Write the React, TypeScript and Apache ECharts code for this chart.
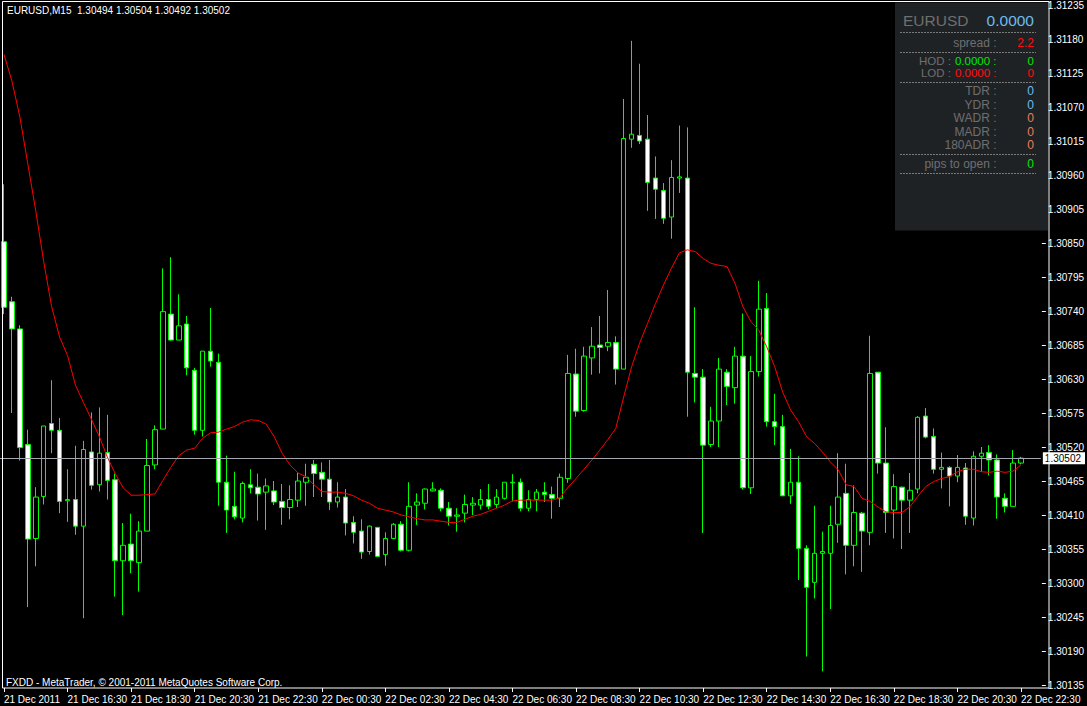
import React, { useEffect, useRef } from "react";
import * as echarts from "echarts";

const symbolName = "EURUSD,M15";

// x-axis tick labels, one every 8 bars (2 hours of M15 bars)
const tickLabels = [
  "21 Dec 2011", "21 Dec 16:30", "21 Dec 18:30", "21 Dec 20:30", "21 Dec 22:30",
  "22 Dec 00:30", "22 Dec 02:30", "22 Dec 04:30", "22 Dec 06:30", "22 Dec 08:30",
  "22 Dec 10:30", "22 Dec 12:30", "22 Dec 14:30", "22 Dec 16:30", "22 Dec 18:30",
  "22 Dec 20:30", "22 Dec 22:30",
];

const opens = [
  1.30852, 1.30755, 1.30711, 1.30524, 1.30372, 1.30440, 1.30558, 1.30547, 1.30433, 1.30435,
  1.30392, 1.30512, 1.30459, 1.30511, 1.30467, 1.30336, 1.30363, 1.30333, 1.30384, 1.30491,
  1.30549, 1.30735, 1.30693, 1.30719, 1.30644, 1.30547, 1.30675, 1.30657, 1.30463, 1.30424,
  1.30405, 1.30459, 1.30455, 1.30447, 1.30449, 1.30432, 1.30422, 1.30434, 1.30463, 1.30492,
  1.30479, 1.30468, 1.30431, 1.30439, 1.30398, 1.30384, 1.30351, 1.30390, 1.30346, 1.30372,
  1.30395, 1.30353, 1.30426, 1.30429, 1.30449, 1.30450, 1.30421, 1.30408, 1.30413, 1.30426,
  1.30426, 1.30435, 1.30427, 1.30437, 1.30462, 1.30463, 1.30421, 1.30435, 1.30447, 1.30443,
  1.30437, 1.30469, 1.30638, 1.30579, 1.30664, 1.30685, 1.30683, 1.30689, 1.30646, 1.31018,
  1.31024, 1.31018, 1.30955, 1.30935, 1.30892, 1.30955, 1.30955, 1.30639, 1.30633, 1.30524,
  1.30562, 1.30641, 1.30616, 1.30667, 1.30454, 1.30642, 1.30744, 1.30561, 1.30553, 1.30441,
  1.30463, 1.30356, 1.30301, 1.30348, 1.30348, 1.30395, 1.30445, 1.30361, 1.30413, 1.30382,
  1.30641, 1.30494, 1.30418, 1.30455, 1.30434, 1.30452, 1.30570, 1.30537, 1.30484, 1.30487,
  1.30473, 1.30486, 1.30405, 1.30505, 1.30511, 1.30499, 1.30437, 1.30424, 1.30494,
];

const highs = [
  1.30945, 1.30763, 1.30717, 1.30548, 1.30455, 1.30554, 1.30628, 1.30567, 1.30484, 1.30522,
  1.30530, 1.30576, 1.30584, 1.30572, 1.30477, 1.30397, 1.30412, 1.30400, 1.30533, 1.30555,
  1.30809, 1.30827, 1.30767, 1.30732, 1.30648, 1.30675, 1.30745, 1.30671, 1.30506, 1.30480,
  1.30464, 1.30484, 1.30477, 1.30469, 1.30465, 1.30460, 1.30458, 1.30478, 1.30493, 1.30499,
  1.30495, 1.30499, 1.30463, 1.30452, 1.30408, 1.30403, 1.30393, 1.30390, 1.30382, 1.30397,
  1.30400, 1.30463, 1.30445, 1.30453, 1.30463, 1.30453, 1.30431, 1.30421, 1.30443, 1.30439,
  1.30452, 1.30460, 1.30452, 1.30463, 1.30476, 1.30469, 1.30450, 1.30452, 1.30463, 1.30456,
  1.30477, 1.30669, 1.30679, 1.30682, 1.30714, 1.30732, 1.30774, 1.30699, 1.31083, 1.31177,
  1.31140, 1.31057, 1.30990, 1.30947, 1.30984, 1.31040, 1.31037, 1.30746, 1.30646, 1.30585,
  1.30664, 1.30646, 1.30682, 1.30736, 1.30667, 1.30789, 1.30769, 1.30606, 1.30572, 1.30517,
  1.30505, 1.30361, 1.30425, 1.30383, 1.30425, 1.30510, 1.30493, 1.30458, 1.30415, 1.30700,
  1.30641, 1.30552, 1.30476, 1.30456, 1.30478, 1.30570, 1.30583, 1.30550, 1.30511, 1.30489,
  1.30507, 1.30494, 1.30513, 1.30520, 1.30523, 1.30508, 1.30445, 1.30515, 1.30504,
];

const lows = [
  1.30735, 1.30575, 1.30498, 1.30261, 1.30327, 1.30427, 1.30510, 1.30413, 1.30399, 1.30378,
  1.30243, 1.30451, 1.30448, 1.30435, 1.30278, 1.30248, 1.30316, 1.30286, 1.30384, 1.30484,
  1.30549, 1.30692, 1.30693, 1.30636, 1.30540, 1.30537, 1.30650, 1.30425, 1.30381, 1.30403,
  1.30398, 1.30445, 1.30401, 1.30386, 1.30426, 1.30394, 1.30403, 1.30423, 1.30425, 1.30439,
  1.30439, 1.30418, 1.30422, 1.30377, 1.30364, 1.30339, 1.30346, 1.30343, 1.30328, 1.30371,
  1.30351, 1.30351, 1.30394, 1.30419, 1.30448, 1.30416, 1.30393, 1.30383, 1.30398, 1.30410,
  1.30419, 1.30419, 1.30421, 1.30435, 1.30432, 1.30416, 1.30416, 1.30416, 1.30431, 1.30404,
  1.30423, 1.30462, 1.30569, 1.30577, 1.30637, 1.30639, 1.30675, 1.30621, 1.30646, 1.31004,
  1.31010, 1.30902, 1.30889, 1.30881, 1.30857, 1.30931, 1.30569, 1.30592, 1.30381, 1.30520,
  1.30520, 1.30588, 1.30590, 1.30451, 1.30444, 1.30634, 1.30553, 1.30523, 1.30441, 1.30428,
  1.30305, 1.30181, 1.30275, 1.30157, 1.30258, 1.30365, 1.30314, 1.30327, 1.30318, 1.30361,
  1.30477, 1.30381, 1.30372, 1.30355, 1.30381, 1.30445, 1.30534, 1.30477, 1.30453, 1.30424,
  1.30463, 1.30394, 1.30393, 1.30480, 1.30474, 1.30404, 1.30414, 1.30424, 1.30492,
];

const closes = [
  1.30746, 1.30711, 1.30519, 1.30371, 1.30439, 1.30554, 1.30547, 1.30432, 1.30435, 1.30392,
  1.30516, 1.30458, 1.30510, 1.30466, 1.30336, 1.30361, 1.30336, 1.30384, 1.30490, 1.30548,
  1.30739, 1.30693, 1.30716, 1.30648, 1.30547, 1.30675, 1.30659, 1.30463, 1.30418, 1.30407,
  1.30461, 1.30454, 1.30444, 1.30457, 1.30431, 1.30422, 1.30435, 1.30465, 1.30471, 1.30477,
  1.30468, 1.30431, 1.30439, 1.30397, 1.30382, 1.30350, 1.30392, 1.30343, 1.30372, 1.30395,
  1.30353, 1.30424, 1.30431, 1.30452, 1.30452, 1.30421, 1.30408, 1.30410, 1.30427, 1.30429,
  1.30435, 1.30424, 1.30439, 1.30463, 1.30463, 1.30421, 1.30435, 1.30447, 1.30443, 1.30437,
  1.30471, 1.30639, 1.30578, 1.30667, 1.30683, 1.30681, 1.30689, 1.30646, 1.31019, 1.31026,
  1.31015, 1.30948, 1.30937, 1.30890, 1.30956, 1.30957, 1.30641, 1.30633, 1.30523, 1.30562,
  1.30646, 1.30618, 1.30667, 1.30454, 1.30642, 1.30743, 1.30561, 1.30553, 1.30441, 1.30463,
  1.30356, 1.30293, 1.30348, 1.30351, 1.30393, 1.30439, 1.30361, 1.30414, 1.30384, 1.30639,
  1.30494, 1.30414, 1.30456, 1.30434, 1.30450, 1.30568, 1.30536, 1.30484, 1.30487, 1.30473,
  1.30487, 1.30408, 1.30505, 1.30510, 1.30499, 1.30439, 1.30424, 1.30494, 1.30502,
];

// red moving-average line
const maValues = [
  1.31155, 1.31112, 1.31054, 1.30978, 1.30902, 1.30820, 1.30747, 1.30698, 1.30668, 1.30620,
  1.30592, 1.30565, 1.30537, 1.30504, 1.30477, 1.30454, 1.30442, 1.30442, 1.30443, 1.30444,
  1.30466, 1.30487, 1.30506, 1.30515, 1.30518, 1.30534, 1.30543, 1.30544, 1.30549, 1.30553,
  1.30560, 1.30564, 1.30563, 1.30557, 1.30537, 1.30510, 1.30491, 1.30478, 1.30472, 1.30459,
  1.30448, 1.30447, 1.30447, 1.30445, 1.30441, 1.30434, 1.30429, 1.30421, 1.30418, 1.30415,
  1.30410, 1.30407, 1.30404, 1.30402, 1.30402, 1.30400, 1.30398, 1.30398, 1.30403, 1.30408,
  1.30411, 1.30416, 1.30421, 1.30426, 1.30433, 1.30434, 1.30434, 1.30434, 1.30434, 1.30434,
  1.30438, 1.30455, 1.30469, 1.30484, 1.30499, 1.30515, 1.30532, 1.30550, 1.30601, 1.30650,
  1.30688, 1.30720, 1.30752, 1.30782, 1.30809, 1.30834, 1.30839, 1.30836, 1.30825, 1.30817,
  1.30814, 1.30812, 1.30785, 1.30747, 1.30723, 1.30709, 1.30682, 1.30650, 1.30609, 1.30580,
  1.30561, 1.30537, 1.30526, 1.30512, 1.30496, 1.30483, 1.30459, 1.30456, 1.30437, 1.30432,
  1.30423, 1.30415, 1.30414, 1.30414, 1.30423, 1.30440, 1.30456, 1.30464, 1.30469, 1.30472,
  1.30480, 1.30484, 1.30484, 1.30480, 1.30479, 1.30481, 1.30479, 1.30481, 1.30491,
];

const yMin = 1.30135;
const yMax = 1.31235;
const yStep = 0.00055;

// panel rows: label, value, value colour
const panelRows = [
  { label: "TDR :", value: "0", color: "#6cbcf0" },
  { label: "YDR :", value: "0", color: "#6cbcf0" },
  { label: "WADR :", value: "0", color: "#f07b5c" },
  { label: "MADR :", value: "0", color: "#f07b5c" },
  { label: "180ADR :", value: "0", color: "#f07b5c" },
];

const FONT = "'Liberation Sans', Arial, sans-serif";
const GRAY = "#6f6f6f";
const GREEN = "#00e600";
const RED = "#ff1010";
const BLUE = "#6cbcf0";

// one slot per 15-minute bar, plus two empty slots on the right
const categories: string[] = [];
for (let i = 0; i < opens.length + 2; i++) {
  const t = 14 * 60 + 30 + 15 * i;
  const d = 21 + Math.floor(t / 1440);
  const m = t % 1440;
  categories.push(
    `${d} Dec ${String(Math.floor(m / 60)).padStart(2, "0")}:${String(m % 60).padStart(2, "0")}`
  );
}

function txt(x: number, y: number, text: string, fill: string, size: number, align = "left") {
  return {
    type: "text",
    x,
    y,
    silent: true,
    z: 20,
    style: {
      text,
      fill,
      fontSize: size,
      fontFamily: FONT,
      lineHeight: size,
      align,
      textAlign: align,
      verticalAlign: "middle",
      textVerticalAlign: "middle",
    },
  };
}

function dash(y: number) {
  return {
    type: "line",
    silent: true,
    z: 20,
    shape: { x1: 900, y1: y, x2: 1036, y2: y },
    style: { stroke: "#7a7a7a", lineWidth: 1, lineDash: [2, 1] },
  };
}

export default function App() {
  const ref = useRef<HTMLDivElement>(null);

  useEffect(() => {
    if (!ref.current) return;
    const chart = echarts.init(ref.current, undefined, { renderer: "svg" });
    const last = opens.length - 1;
    const candles = opens.map((o, i) => [o, closes[i], lows[i], highs[i]]);
    const title = `${symbolName}  ${opens[last].toFixed(5)} ${highs[last].toFixed(5)} ${lows[last].toFixed(5)} ${closes[last].toFixed(5)}`;

    const graphic: any[] = [
      // chart frame
      {
        type: "rect",
        silent: true,
        z: 15,
        shape: { x: 2.5, y: 1.5, width: 1046.5, height: 686.5 },
        style: { fill: "none", stroke: "#ffffff", lineWidth: 1 },
      },
      // info panel
      {
        type: "rect",
        silent: true,
        z: 16,
        shape: { x: 895, y: 2.5, width: 153, height: 228 },
        style: { fill: "#1f2225" },
      },
      txt(7, 10, title, "#ffffff", 10),
      txt(6, 682, "FXDD - MetaTrader, © 2001-2011 MetaQuotes Software Corp.", "#ffffff", 10),
      txt(903, 20, "EURUSD", GRAY, 15.5),
      txt(1034, 20, "0.0000", BLUE, 15.5, "right"),
      dash(32.5),
      txt(996.5, 42.5, "spread :", GRAY, 12, "right"),
      txt(1034, 42.5, "2.2", RED, 12, "right"),
      dash(52.5),
      txt(951, 60.5, "HOD :", GRAY, 11.5, "right"),
      txt(996.5, 60.5, "0.0000 :", GREEN, 11.5, "right"),
      txt(1034, 60.5, "0", GREEN, 11.5, "right"),
      txt(951, 72.5, "LOD :", GRAY, 11.5, "right"),
      txt(996.5, 72.5, "0.0000 :", RED, 11.5, "right"),
      txt(1034, 72.5, "0", RED, 11.5, "right"),
      dash(82.5),
      dash(154.5),
      txt(996.5, 164, "pips to open :", GRAY, 12, "right"),
      txt(1034, 164, "0", GREEN, 12, "right"),
      dash(173.5),
    ];
    const rowY = [90.5, 104.5, 118, 131.5, 144.5];
    panelRows.forEach((r, i) => {
      graphic.push(txt(996.5, rowY[i], r.label, GRAY, 12, "right"));
      graphic.push(txt(1034, rowY[i], r.value, r.color, 12, "right"));
    });

    chart.setOption({
      animation: false,
      backgroundColor: "#000000",
      textStyle: { fontFamily: FONT },
      grid: { left: 0, top: 5, width: 1048, height: 680, show: false },
      xAxis: {
        type: "category",
        data: categories,
        boundaryGap: true,
        offset: 3,
        axisLine: { show: false },
        axisTick: {
          show: true,
          alignWithLabel: true,
          interval: 7,
          length: 4,
          lineStyle: { color: "#ffffff" },
        },
        axisLabel: {
          interval: 7,
          color: "#ffffff",
          fontSize: 10,
          fontFamily: FONT,
          align: "left",
          margin: 6,
          formatter: (_v: string, i: number) => tickLabels[i / 8] ?? "",
        },
        splitLine: { show: false },
      },
      yAxis: {
        type: "value",
        position: "right",
        min: yMin,
        max: yMax,
        interval: yStep,
        offset: 1,
        axisLine: { show: false },
        axisTick: { show: true, length: 4, lineStyle: { color: "#ffffff" } },
        axisLabel: {
          color: "#ffffff",
          fontSize: 10,
          fontFamily: FONT,
          margin: 6,
          formatter: (v: number) => v.toFixed(5),
        },
        splitLine: { show: false },
      },
      series: [
        {
          type: "candlestick",
          data: candles,
          barWidth: 5,
          itemStyle: {
            color: "#000000",
            color0: "#ffffff",
            borderColor: "#00ff00",
            borderColor0: "#00ff00",
            borderColorDoji: "#00ff00",
            borderWidth: 1,
          },
        },
        {
          type: "line",
          data: maValues,
          symbol: "none",
          showSymbol: false,
          z: 3,
          lineStyle: { color: "#ff0000", width: 1 },
          markLine: {
            silent: true,
            precision: 5,
            symbol: ["none", "none"],
            animation: false,
            lineStyle: { color: "#a3a6ad", width: 1, type: "solid" },
            label: {
              show: true,
              position: "end",
              distance: 2,
              formatter: closes[last].toFixed(5),
              backgroundColor: "#ffffff",
              color: "#000000",
              fontSize: 10,
              fontFamily: FONT,
              padding: [1, 4, 1, 2],
            },
            data: [{ yAxis: closes[last] }],
          },
        },
      ],
      graphic,
    });

    return () => chart.dispose();
  }, []);

  return (
    <div
      ref={ref}
      style={{ position: "fixed", left: 0, top: 0, width: 1087, height: 706, background: "#000" }}
    />
  );
}
